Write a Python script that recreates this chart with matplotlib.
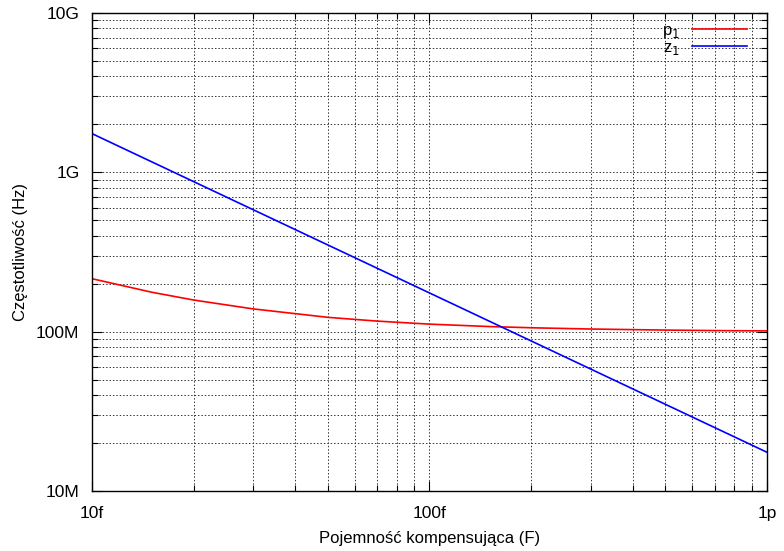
import numpy as np
import matplotlib.pyplot as plt
from matplotlib.ticker import FixedLocator, FixedFormatter, LogLocator, NullFormatter

plt.rcParams['font.family'] = ['Liberation Sans', 'DejaVu Sans']

# Pojemność kompensująca (F)
c_p1 = [10e-15, 15e-15, 20e-15, 30e-15, 50e-15, 70e-15, 100e-15, 150e-15, 200e-15, 300e-15, 500e-15, 700e-15, 1e-12]
# p1 (Hz)
p1 = [215e6, 177e6, 158e6, 139e6, 123e6, 116.5e6, 111.5e6, 107.7e6, 105.8e6, 103.9e6, 102.3e6, 101.6e6, 101.1e6]
# z1 (Hz) - prosta w skali log-log
c_z1 = [10e-15, 1e-12]
z1 = [1.75e9, 17.5e6]

xticks = [1e-14, 1e-13, 1e-12]
xlabels = ['10f', '100f', '1p']
yticks = [1e7, 1e8, 1e9, 1e10]
ylabels = ['10M', '100M', '1G', '10G']

fig = plt.figure(figsize=(7.84, 5.51), dpi=100)
ax = fig.add_axes([0.1173, 0.1089, 0.861, 0.8675])

ax.plot(c_p1, p1, color='#ff0000', lw=1.2, label='p$_1$')
ax.plot(c_z1, z1, color='#0000ff', lw=1.2, label='z$_1$')

ax.set_xscale('log')
ax.set_yscale('log')
ax.set_xlim(1e-14, 1e-12)
ax.set_ylim(1e7, 1e10)

ax.xaxis.set_major_locator(FixedLocator(xticks))
ax.xaxis.set_major_formatter(FixedFormatter(xlabels))
ax.yaxis.set_major_locator(FixedLocator(yticks))
ax.yaxis.set_major_formatter(FixedFormatter(ylabels))
ax.xaxis.set_minor_locator(LogLocator(base=10, subs=np.arange(2, 10)))
ax.yaxis.set_minor_locator(LogLocator(base=10, subs=np.arange(2, 10)))
ax.xaxis.set_minor_formatter(NullFormatter())
ax.yaxis.set_minor_formatter(NullFormatter())

ax.tick_params(which='both', direction='in', top=True, right=True, labelsize=12.5)
ax.tick_params(which='major', length=7, width=0.8)
ax.tick_params(which='minor', length=4, width=0.8)
ax.tick_params(axis='x', pad=11)
ax.tick_params(axis='y', pad=9)

ax.grid(True, which='both', color='0.2', lw=0.7, ls=(0, (1.5, 2)))
for s in ax.spines.values():
    s.set_linewidth(1.0)

ax.set_xlabel('Pojemność kompensująca (F)', fontsize=12, labelpad=7)
ax.set_ylabel('Częstotliwość (Hz)', fontsize=12, labelpad=6)

ax.legend(loc='upper right', markerfirst=False, frameon=False, fontsize=12,
          handlelength=3.3, handletextpad=0.7, labelspacing=0.0,
          borderaxespad=0.0, borderpad=0.6, bbox_to_anchor=(0.985, 1.0))

fig.savefig('out.png', dpi=100)
